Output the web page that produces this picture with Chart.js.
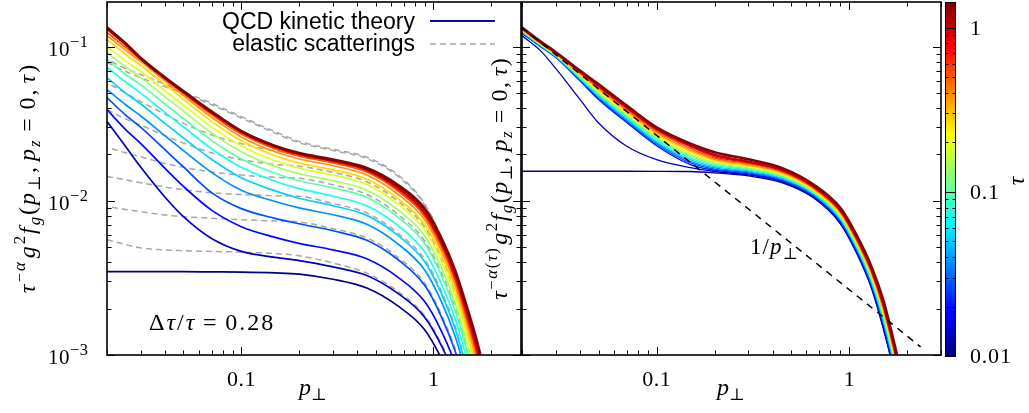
<!DOCTYPE html>
<html>
<head>
<meta charset="utf-8">
<script src="https://cdn.jsdelivr.net/npm/chart.js@4.4.0/dist/chart.umd.min.js"></script>
<style>
  html, body { margin: 0; padding: 0; background: #fff; }
  #wrap { position: relative; width: 1029px; height: 413px; overflow: hidden; background: #fff; }
  canvas { position: absolute; top: 0; }
</style>
</head>
<body>
<div id="wrap">
  <canvas id="left" width="522" height="413" style="left:0"></canvas>
  <canvas id="right" width="520" height="413" style="left:430px"></canvas>
  <canvas id="cbar" width="89" height="413" style="left:940px"></canvas>
</div>
<script>
// p_perp grid used for every curve
const pLeft  = [0.02, 0.025, 0.03, 0.04, 0.05, 0.07, 0.1, 0.15, 0.2, 0.3, 0.45, 0.65, 0.9, 1.1, 1.3, 1.5, 1.7, 1.9];
const pRight = [0.02, 0.025, 0.03, 0.04, 0.05, 0.07, 0.1, 0.15, 0.2, 0.3, 0.45, 0.65, 0.9, 1.1, 1.3, 1.5, 1.7, 1.9];

// tau of each snapshot (colour of the curve)
const tauValues = [0.01, 0.0139, 0.0193, 0.0268, 0.0372, 0.0517, 0.0718, 0.0997, 0.1385, 0.192, 0.267, 0.371, 0.516, 0.716, 0.995, 1.38];

// left panel: QCD kinetic theory
const qcdL0  = [0.00347, 0.00347, 0.00347, 0.00347, 0.00347, 0.00346, 0.00345, 0.00341, 0.00335, 0.0031, 0.00272, 0.00209, 0.00146, 0.00095, 0.00059, 0.00034, 0.0002, 0.00011];
const qcdL1  = [0.0327, 0.0225, 0.0165, 0.0106, 0.0079, 0.0057, 0.0047, 0.0043, 0.0041, 0.00373, 0.00328, 0.00252, 0.00176, 0.00115, 0.00071, 0.00041, 0.00023, 0.00013];
const qcdL2  = [0.0391, 0.029, 0.0235, 0.0163, 0.0124, 0.0087, 0.0068, 0.0058, 0.0053, 0.00481, 0.00421, 0.00321, 0.00222, 0.00143, 0.00087, 0.00049, 0.00027, 0.00015];
const qcdL3  = [0.0468, 0.036, 0.03, 0.0215, 0.0166, 0.0113, 0.0089, 0.0077, 0.0071, 0.0064, 0.00555, 0.00418, 0.00283, 0.00177, 0.00105, 0.00057, 0.00031, 0.00017];
const qcdL4  = [0.0527, 0.042, 0.0355, 0.0265, 0.0212, 0.0153, 0.0117, 0.0099, 0.009, 0.00812, 0.00705, 0.00528, 0.00356, 0.00222, 0.00131, 0.00071, 0.0004, 0.0002];
const qcdL5  = [0.063, 0.05, 0.0425, 0.0318, 0.0256, 0.0186, 0.0141, 0.0116, 0.0104, 0.0093, 0.00805, 0.006, 0.00403, 0.0025, 0.00147, 0.00079, 0.00044, 0.00023];
const qcdL6  = [0.0733, 0.059, 0.05, 0.0375, 0.0302, 0.0218, 0.0165, 0.0134, 0.012, 0.01072, 0.00929, 0.00695, 0.00467, 0.0029, 0.0017, 0.00092, 0.00051, 0.00027];
const qcdL7  = [0.0826, 0.066, 0.0565, 0.0425, 0.0342, 0.0247, 0.0187, 0.0151, 0.0135, 0.01216, 0.01054, 0.00787, 0.00529, 0.00328, 0.00192, 0.00103, 0.00057, 0.0003];
const qcdL8  = [0.0917, 0.074, 0.063, 0.0475, 0.0382, 0.0276, 0.0208, 0.0167, 0.015, 0.01352, 0.01173, 0.00877, 0.00591, 0.00368, 0.00216, 0.00117, 0.00065, 0.00034];
const qcdL9  = [0.1, 0.081, 0.069, 0.052, 0.0418, 0.0302, 0.0227, 0.0182, 0.0163, 0.01471, 0.01279, 0.0096, 0.0065, 0.00408, 0.00241, 0.00131, 0.00073, 0.00039];
const qcdL10 = [0.111, 0.089, 0.0755, 0.0568, 0.0455, 0.0328, 0.0245, 0.0196, 0.0176, 0.01589, 0.01381, 0.01038, 0.00704, 0.00442, 0.00262, 0.00143, 0.0008, 0.00043];
const qcdL11 = [0.118, 0.095, 0.08, 0.06, 0.0482, 0.0348, 0.026, 0.0208, 0.0187, 0.0169, 0.01471, 0.01108, 0.00754, 0.00475, 0.00283, 0.00155, 0.00087, 0.00047];
const qcdL12 = [0.124, 0.099, 0.0825, 0.0617, 0.0497, 0.0363, 0.0271, 0.0217, 0.0195, 0.01765, 0.01539, 0.01164, 0.00796, 0.00504, 0.00303, 0.00167, 0.00095, 0.0005];
const qcdL13 = [0.13, 0.103, 0.0835, 0.0625, 0.0508, 0.0373, 0.0279, 0.0223, 0.02, 0.01803, 0.01575, 0.01195, 0.0082, 0.00523, 0.00315, 0.00175, 0.001, 0.00054];
const qcdL14 = [0.132, 0.104, 0.084, 0.063, 0.0511, 0.0377, 0.0282, 0.0225, 0.0202, 0.0183, 0.016, 0.0123, 0.0085, 0.00545, 0.00333, 0.00189, 0.00109, 0.0006];
const qcdL15 = [0.133, 0.105, 0.084, 0.063, 0.0513, 0.0379, 0.0283, 0.0227, 0.0204, 0.0185, 0.0163, 0.0127, 0.0089, 0.0057, 0.0035, 0.002, 0.00117, 0.00065];

// left panel: elastic scatterings only (grey dashed)
const elasticL1  = [0.0056, 0.0052, 0.00495, 0.0048, 0.00475, 0.0047, 0.00465, 0.00455, 0.0044, 0.00395, 0.0034, 0.0026, 0.0018, 0.00118, 0.00073, 0.00042, 0.00024, 0.00013];
const elasticL3  = [0.0092, 0.0088, 0.0085, 0.0081, 0.0079, 0.0077, 0.00755, 0.0074, 0.0073, 0.0066, 0.00575, 0.00433, 0.00293, 0.00183, 0.00109, 0.00059, 0.00032, 0.00018];
const elasticL5  = [0.0144, 0.0137, 0.0131, 0.0123, 0.0118, 0.0113, 0.011, 0.0108, 0.0107, 0.0096, 0.00835, 0.0062, 0.00418, 0.0026, 0.00153, 0.00082, 0.00046, 0.00024];
const elasticL7  = [0.0222, 0.0205, 0.0193, 0.0175, 0.0165, 0.0154, 0.0147, 0.0142, 0.014, 0.0127, 0.011, 0.0082, 0.0055, 0.00341, 0.002, 0.00107, 0.00059, 0.00031];
const elasticL9  = [0.039, 0.034, 0.031, 0.0265, 0.0237, 0.0205, 0.0185, 0.0172, 0.0168, 0.0153, 0.0133, 0.01, 0.00675, 0.00424, 0.0025, 0.00136, 0.00076, 0.0004];
const elasticL11 = [0.0585, 0.05, 0.044, 0.0365, 0.0318, 0.0268, 0.0235, 0.0211, 0.0199, 0.0179, 0.0156, 0.0117, 0.0079, 0.00495, 0.00295, 0.00162, 0.0009, 0.00049];
const elasticL13 = [0.079, 0.069, 0.063, 0.055, 0.05, 0.042, 0.0345, 0.0275, 0.0238, 0.0212, 0.0188, 0.0145, 0.0094, 0.0057, 0.0034, 0.0019, 0.00108, 0.00058];
const elasticL15 = [0.083, 0.072, 0.066, 0.057, 0.051, 0.043, 0.0352, 0.0281, 0.0243, 0.0216, 0.0192, 0.0148, 0.0096, 0.00585, 0.0035, 0.00197, 0.00112, 0.0006];

// right panel: tau^-alpha(tau) rescaled QCD curves
const qcdR0  = [0.01556, 0.01556, 0.01556, 0.01556, 0.01556, 0.01556, 0.01555, 0.0155, 0.0152, 0.0145, 0.0131, 0.0105, 0.0071, 0.0045, 0.00275, 0.0015, 0.0008, 0.00042];
const qcdR1  = [0.118, 0.094, 0.072, 0.0455, 0.032, 0.0226, 0.0185, 0.0164, 0.0155, 0.01472, 0.01328, 0.01063, 0.00721, 0.00458, 0.00281, 0.00154, 0.00082, 0.00043];
const qcdR2  = [0.122, 0.1, 0.085, 0.06, 0.0455, 0.0322, 0.0228, 0.0172, 0.0158, 0.01495, 0.01346, 0.01076, 0.00731, 0.00465, 0.00286, 0.00158, 0.000846, 0.000446];
const qcdR3  = [0.123, 0.1005, 0.0855, 0.0607, 0.0463, 0.03283, 0.02329, 0.01762, 0.01606, 0.01518, 0.01365, 0.0109, 0.00742, 0.00473, 0.00292, 0.00163, 0.00087, 0.00046];
const qcdR4  = [0.124, 0.101, 0.086, 0.0614, 0.0471, 0.03348, 0.02378, 0.01805, 0.01636, 0.01541, 0.01383, 0.01103, 0.00753, 0.00482, 0.00298, 0.00167, 0.000894, 0.000474];
const qcdR5  = [0.125, 0.102, 0.0866, 0.0622, 0.0479, 0.03414, 0.02429, 0.01849, 0.01666, 0.01565, 0.01402, 0.01117, 0.00765, 0.0049, 0.00304, 0.00171, 0.00092, 0.000488];
const qcdR6  = [0.126, 0.1025, 0.0871, 0.0629, 0.0488, 0.03482, 0.02481, 0.01894, 0.01697, 0.01589, 0.01422, 0.01131, 0.00776, 0.00498, 0.0031, 0.00176, 0.000946, 0.000503];
const qcdR7  = [0.127, 0.103, 0.0876, 0.0637, 0.0496, 0.0355, 0.02534, 0.01939, 0.01729, 0.01613, 0.01441, 0.01145, 0.00788, 0.00507, 0.00317, 0.00181, 0.000973, 0.000519];
const qcdR8  = [0.127, 0.1035, 0.0882, 0.0644, 0.0505, 0.0362, 0.02588, 0.01987, 0.01761, 0.01638, 0.01461, 0.01159, 0.008, 0.00515, 0.00323, 0.00186, 0.001, 0.000534];
const qcdR9  = [0.128, 0.104, 0.0887, 0.0652, 0.0514, 0.03691, 0.02643, 0.02034, 0.01794, 0.01663, 0.01481, 0.01174, 0.00811, 0.00524, 0.0033, 0.00191, 0.00103, 0.000551];
const qcdR10 = [0.129, 0.1045, 0.0892, 0.066, 0.0523, 0.03764, 0.02699, 0.02084, 0.01827, 0.01689, 0.01502, 0.01188, 0.00824, 0.00533, 0.00337, 0.00196, 0.00106, 0.000568];
const qcdR11 = [0.13, 0.105, 0.0898, 0.0668, 0.0532, 0.03838, 0.02757, 0.02135, 0.01861, 0.01714, 0.01522, 0.01203, 0.00836, 0.00542, 0.00344, 0.00201, 0.00109, 0.000585];
const qcdR12 = [0.131, 0.106, 0.0903, 0.0676, 0.0541, 0.03914, 0.02816, 0.02187, 0.01895, 0.01741, 0.01543, 0.01218, 0.00848, 0.00551, 0.00351, 0.00207, 0.00112, 0.000603];
const qcdR13 = [0.132, 0.1065, 0.0909, 0.0684, 0.0551, 0.03991, 0.02876, 0.0224, 0.0193, 0.01768, 0.01564, 0.01233, 0.00861, 0.00561, 0.00358, 0.00212, 0.00115, 0.000621];
const qcdR14 = [0.132, 0.107, 0.0914, 0.0692, 0.056, 0.0407, 0.02937, 0.02294, 0.01985, 0.01795, 0.01586, 0.01249, 0.00874, 0.0057, 0.00365, 0.00218, 0.00118, 0.00064];
const qcdR15 = [0.133, 0.108, 0.092, 0.07, 0.057, 0.0415, 0.03, 0.0235, 0.0207, 0.0186, 0.0163, 0.0128, 0.009, 0.0059, 0.0038, 0.0023, 0.00125, 0.00068];

// 1/p_perp guide line
const powerLawX = [0.02, 2.35];
const powerLawY = [0.133, 0.00113];

// axis ticks and labels
const xTickValues = [0.1, 1];
const xTickLabels = ['0.1', '1'];
const yTickValues = [0.001, 0.01, 0.1];
const yTickExponents = ['3', '2', '1'];
const cbTickValues = [0.01, 0.1, 1];
const cbTickLabels = ['0.01', '0.1', '1'];

const cbMin = 0.01, cbMax = 1.43;
const SERIF = '"Liberation Serif", "DejaVu Serif", serif';
const SANS = '"Liberation Sans", Arial, sans-serif';

function clamp(v) { return Math.max(0, Math.min(1, v)); }
function jet(f) {
  const r = clamp(1.5 - Math.abs(4 * f - 3));
  const g = clamp(1.5 - Math.abs(4 * f - 2));
  const b = clamp(1.5 - Math.abs(4 * f - 1));
  return `rgb(${Math.round(r * 255)},${Math.round(g * 255)},${Math.round(b * 255)})`;
}
function tauColor(tau) {
  return jet(Math.log(tau / cbMin) / Math.log(cbMax / cbMin));
}

// text made of pieces [text, style, level]: style 'i' italic, 'n' upright, 'g' gap (level = em)
// level 1 = superscript, -1 = subscript
function drawMath(ctx, parts, x, y, o) {
  const size = o.size, ls = o.ls || 0, sc = o.sc || 0.7, raise = o.raise || 0.4;
  ctx.save();
  ctx.translate(x, y);
  if (o.angle) ctx.rotate(o.angle);
  const run = [];
  parts.forEach(([t, st, lvl]) => {
    if (st === 'g') { run.push({ gap: lvl * size }); return; }
    const s = lvl === 0 ? size : size * sc;
    const font = (st === 'i' ? 'italic ' : '') + s.toFixed(1) + 'px ' + SERIF;
    ctx.font = font;
    const dy = lvl === 1 ? -size * raise : (lvl === -1 ? size * 0.22 : 0);
    for (const ch of t) run.push({ t: ch, font, dy, w: ctx.measureText(ch).width + ls });
  });
  const total = run.reduce((a, r) => a + (r.gap !== undefined ? r.gap : r.w), 0) - ls;
  let cx = o.align === 'center' ? -total / 2 : (o.align === 'right' ? -total : 0);
  ctx.fillStyle = '#000';
  ctx.textAlign = 'left';
  ctx.textBaseline = 'alphabetic';
  run.forEach(r => {
    if (r.gap !== undefined) { cx += r.gap; return; }
    ctx.font = r.font;
    ctx.fillText(r.t, cx, r.dy);
    cx += r.w;
  });
  ctx.restore();
}

function logTicks(min, max) {
  const out = [];
  for (let e = Math.floor(Math.log10(min)); e <= Math.ceil(Math.log10(max)); e++) {
    for (let k = 1; k <= 9; k++) {
      const v = k * Math.pow(10, e);
      if (v >= min * 0.999 && v <= max * 1.001) out.push({ v, major: k === 1 });
    }
  }
  return out;
}

// frame with inward ticks on all four sides, then the panel texts
function panelPlugin(drawTexts) {
  return {
    id: 'panelFrame',
    afterDraw(chart) {
      const ctx = chart.ctx;
      const { left, right, top, bottom } = chart.chartArea;
      const xs = chart.scales.x, ys = chart.scales.y;
      ctx.save();
      ctx.strokeStyle = '#000';
      ctx.lineWidth = 1;
      ctx.beginPath();
      logTicks(xs.min, xs.max).forEach(t => {
        const px = Math.round(xs.getPixelForValue(t.v)) + 0.5;
        const len = t.major ? 8 : 4.5;
        ctx.moveTo(px, bottom); ctx.lineTo(px, bottom - len);
        ctx.moveTo(px, top); ctx.lineTo(px, top + len);
      });
      logTicks(ys.min, ys.max).forEach(t => {
        const py = Math.round(ys.getPixelForValue(t.v)) + 0.5;
        const len = t.major ? 8 : 4.5;
        ctx.moveTo(left, py); ctx.lineTo(left + len, py);
        ctx.moveTo(right, py); ctx.lineTo(right - len, py);
      });
      ctx.stroke();
      ctx.lineWidth = 1.6;
      ctx.strokeRect(left, top, right - left, bottom - top);
      ctx.restore();
      drawTexts(ctx, chart);
    }
  };
}

function xTickText(ctx, chart) {
  const xs = chart.scales.x;
  xTickValues.forEach((v, i) =>
    drawMath(ctx, [[xTickLabels[i], 'n', 0]], xs.getPixelForValue(v), 386, { size: 22, ls: 0.5, align: 'center' }));
}

function makeSets(grid, curves, widthFn) {
  return curves.map((ys, n) => ({
    data: grid.map((x, i) => ({ x, y: ys[i] })),
    borderColor: tauColor(tauValues[n]),
    borderWidth: widthFn(n),
    cubicInterpolationMode: 'monotone',
    pointRadius: 0,
    fill: false,
    order: 15 - n
  }));
}

const qcdLeft = [qcdL0, qcdL1, qcdL2, qcdL3, qcdL4, qcdL5, qcdL6, qcdL7, qcdL8, qcdL9, qcdL10, qcdL11, qcdL12, qcdL13, qcdL14, qcdL15];
const elasticLeft = [elasticL1, elasticL3, elasticL5, elasticL7, elasticL9, elasticL11, elasticL13, elasticL15];
const qcdRight = [qcdR0, qcdR1, qcdR2, qcdR3, qcdR4, qcdR5, qcdR6, qcdR7, qcdR8, qcdR9, qcdR10, qcdR11, qcdR12, qcdR13, qcdR14, qcdR15];

const leftSets = makeSets(pLeft, qcdLeft, n => (n >= 14 ? 2.8 : 1.7));
elasticLeft.forEach((ys, k) => leftSets.push({
  data: pLeft.map((x, i) => ({ x, y: ys[i] })),
  borderColor: '#a6a6a6',
  borderWidth: 1.5,
  borderDash: [6, 4],
  borderDashOffset: k % 2 ? 5 : 0,
  cubicInterpolationMode: 'monotone',
  pointRadius: 0,
  fill: false,
  order: 50
}));

const rightSets = makeSets(pRight, qcdRight, n => (n >= 14 ? 2.6 : 1.3));
rightSets.push({
  data: powerLawX.map((x, i) => ({ x, y: powerLawY[i] })),
  borderColor: '#000',
  borderWidth: 1.5,
  borderDash: [7, 6],
  pointRadius: 0,
  fill: false,
  order: -1
});

const fArgs = [['g', 'i', 0], ['2', 'n', 1], ['f', 'i', 0], ['g', 'i', -1], ['(', 'n', 0], ['p', 'i', 0], ['⊥', 'n', -1], [',', 'n', 0], ['', 'g', 0.17],
  ['p', 'i', 0], ['z', 'i', -1], ['', 'g', 0.28], ['=', 'n', 0], ['', 'g', 0.28], ['0,', 'n', 0], ['', 'g', 0.17], ['τ', 'i', 0], [')', 'n', 0]];
const yTitleLeft = [['τ', 'i', 0], ['−', 'n', 1], ['α', 'i', 1], ['', 'g', 0.08]].concat(fArgs);
const yTitleRight = [['τ', 'i', 0], ['−', 'n', 1], ['α', 'i', 1], ['(', 'n', 1], ['τ', 'i', 1], [')', 'n', 1], ['', 'g', 0.08]].concat(fArgs);
const xTitle = [['p', 'i', 0], ['⊥', 'n', -1]];

function baseOptions(pad, xmin, xmax, ymin, ymax) {
  return {
    responsive: false,
    animation: false,
    events: [],
    layout: { padding: pad },
    plugins: { legend: { display: false }, tooltip: { enabled: false } },
    scales: {
      x: { type: 'logarithmic', min: xmin, max: xmax, display: false },
      y: { type: 'logarithmic', min: ymin, max: ymax, display: false }
    }
  };
}

// left panel
new Chart(document.getElementById('left'), {
  type: 'line',
  data: { datasets: leftSets },
  options: baseOptions({ left: 107, right: 1, top: 2, bottom: 58 }, 0.02, 2.855, 0.001, 0.195),
  plugins: [panelPlugin((ctx, chart) => {
    const ys = chart.scales.y;
    xTickText(ctx, chart);
    yTickValues.forEach((v, i) => {
      const py = ys.getPixelForValue(v);
      drawMath(ctx, [['10', 'n', 0], ['−' + yTickExponents[i], 'n', 1]], 48, py + 9, { size: 21, ls: 0.5, sc: 0.78, raise: 0.42 });
    });
    drawMath(ctx, xTitle, 313, 395, { size: 24, align: 'center' });
    drawMath(ctx, yTitleLeft, 35, 179, { size: 24, ls: 2, align: 'center', angle: -Math.PI / 2 });
    drawMath(ctx, [['Δ', 'n', 0], ['τ', 'i', 0], ['/', 'n', 0], ['τ', 'i', 0], ['', 'g', 0.28], ['=', 'n', 0], ['', 'g', 0.28], ['0.28', 'n', 0]],
      149, 330, { size: 24, ls: 2 });
    // legend
    ctx.save();
    ctx.font = '23px ' + SANS;
    ctx.fillStyle = '#000';
    ctx.textAlign = 'right';
    ctx.fillText('QCD kinetic theory', 415, 28.5);
    ctx.fillText('elastic scatterings', 415, 50.5);
    ctx.lineWidth = 1.8;
    ctx.strokeStyle = '#0c0c9c';
    ctx.beginPath(); ctx.moveTo(430, 21); ctx.lineTo(495, 21); ctx.stroke();
    ctx.lineWidth = 1.5;
    ctx.strokeStyle = '#a6a6a6';
    ctx.setLineDash([6, 4]);
    ctx.beginPath(); ctx.moveTo(430, 44); ctx.lineTo(495, 44); ctx.stroke();
    ctx.restore();
  })]
});

// right panel
new Chart(document.getElementById('right'), {
  type: 'line',
  data: { datasets: rightSets },
  options: baseOptions({ left: 92, right: 9, top: 2, bottom: 58 }, 0.02, 3.0, 0.001, 0.195),
  plugins: [panelPlugin((ctx, chart) => {
    xTickText(ctx, chart);
    drawMath(ctx, xTitle, 731 - 430, 395, { size: 24, align: 'center' });
    drawMath(ctx, yTitleRight, 507 - 430, 179, { size: 24, ls: 1.5, align: 'center', angle: -Math.PI / 2 });
    drawMath(ctx, [['1/', 'n', 0], ['p', 'i', 0], ['⊥', 'n', -1]], 750 - 430, 254, { size: 23, ls: 1 });
  })]
});

// colour box
new Chart(document.getElementById('cbar'), {
  type: 'line',
  data: { datasets: [] },
  options: {
    responsive: false,
    animation: false,
    events: [],
    layout: { padding: { left: 5, right: 73, top: 2, bottom: 57 } },
    plugins: { legend: { display: false }, tooltip: { enabled: false } },
    scales: {
      x: { type: 'linear', min: 0, max: 1, display: false },
      y: { type: 'logarithmic', min: cbMin, max: cbMax, display: false }
    }
  },
  plugins: [{
    id: 'cbox',
    afterDraw(chart) {
      const ctx = chart.ctx;
      const { left, right, top, bottom } = chart.chartArea;
      const ys = chart.scales.y;
      ctx.save();
      const grad = ctx.createLinearGradient(0, bottom, 0, top);
      for (let i = 0; i <= 40; i++) grad.addColorStop(i / 40, jet(i / 40));
      ctx.fillStyle = grad;
      ctx.fillRect(left, top, right - left, bottom - top);
      ctx.strokeStyle = '#000';
      ctx.lineWidth = 1;
      ctx.beginPath();
      logTicks(cbMin, cbMax).forEach(t => {
        const py = Math.round(ys.getPixelForValue(t.v)) + 0.5;
        if (t.major) { ctx.moveTo(left, py); ctx.lineTo(right, py); }
        else { ctx.moveTo(left, py); ctx.lineTo(left + 3.5, py); ctx.moveTo(right, py); ctx.lineTo(right - 3.5, py); }
      });
      ctx.stroke();
      ctx.strokeRect(left + 0.5, top + 0.5, right - left - 1, bottom - top - 1);
      ctx.restore();
      cbTickValues.forEach((v, i) =>
        drawMath(ctx, [[cbTickLabels[i], 'n', 0]], 970 - 940, ys.getPixelForValue(v) + 7, { size: 22, ls: 0.8 }));
      drawMath(ctx, [['τ', 'i', 0]], 1024 - 940, 181, { size: 24, align: 'center', angle: -Math.PI / 2 });
    }
  }]
});
</script>
</body>
</html>
